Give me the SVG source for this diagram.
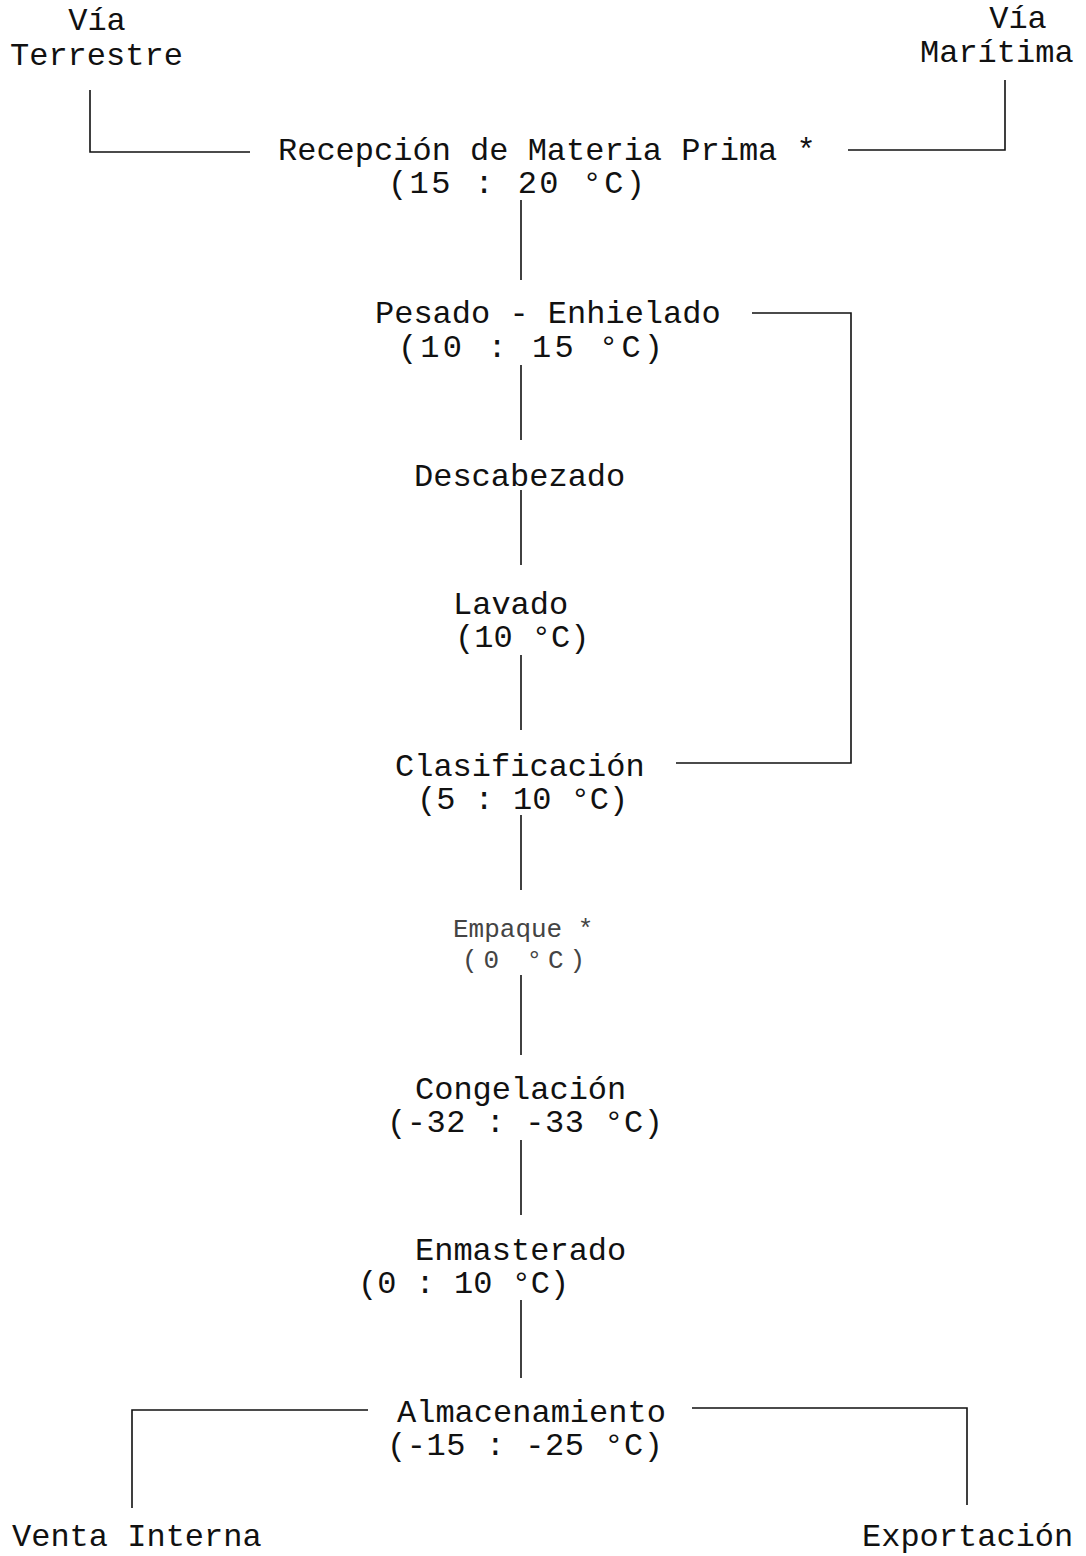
<svg xmlns="http://www.w3.org/2000/svg" width="1086" height="1556" viewBox="0 0 1086 1556">
<style>
text{font-family:"Liberation Mono","DejaVu Sans Mono",monospace;font-size:32px;fill:#111;}
.s{font-size:26px;fill:#444;}
.c{stroke:#111;stroke-width:1.6;fill:none;}
</style>
<rect width="1086" height="1556" fill="#fff"/>
<g id="connectors">
<path class="c" d="M90,90 V152 H250"/>
<path class="c" d="M848,150 H1005 V80"/>
<path class="c" d="M521,200 V280"/>
<path class="c" d="M521,365 V440"/>
<path class="c" d="M521,490 V565"/>
<path class="c" d="M521,655 V730"/>
<path class="c" d="M521,815 V890"/>
<path class="c" d="M521,975 V1055"/>
<path class="c" d="M521,1140 V1215"/>
<path class="c" d="M521,1300 V1378"/>
<path class="c" d="M752,313 H851 V763 H676"/>
<path class="c" d="M368,1410 H132 V1508"/>
<path class="c" d="M692,1408 H967 V1505"/>
</g>
<g id="via-terrestre"><text x="97" y="30" text-anchor="middle">Vía</text><text x="10" y="65">Terrestre</text></g>
<g id="via-maritima"><text x="1018" y="28" text-anchor="middle">Vía</text><text x="920" y="62">Marítima</text></g>
<g id="recepcion"><text x="278" y="160">Recepción de Materia Prima *</text><text x="388" y="193" textLength="257" lengthAdjust="spacing">(15 : 20 °C)</text></g>
<g id="pesado"><text x="375" y="323">Pesado - Enhielado</text><text x="398" y="357" textLength="265" lengthAdjust="spacing">(10 : 15 °C)</text></g>
<g id="descabezado"><text x="414" y="486">Descabezado</text></g>
<g id="lavado"><text x="453" y="614">Lavado</text><text x="455" y="647">(10 °C)</text></g>
<g id="clasificacion"><text x="395" y="776">Clasificación</text><text x="417" y="809">(5 : 10 °C)</text></g>
<g id="empaque"><text class="s" x="453" y="937">Empaque *</text><text class="s" x="462" y="968" textLength="123" lengthAdjust="spacing">(0 °C)</text></g>
<g id="congelacion"><text x="415" y="1099">Congelación</text><text x="387" y="1132" textLength="276" lengthAdjust="spacing">(-32 : -33 °C)</text></g>
<g id="enmasterado"><text x="415" y="1260">Enmasterado</text><text x="358" y="1293">(0 : 10 °C)</text></g>
<g id="almacenamiento"><text x="397" y="1422">Almacenamiento</text><text x="387" y="1455" textLength="276" lengthAdjust="spacing">(-15 : -25 °C)</text></g>
<g id="venta-interna"><text x="12" y="1546">Venta Interna</text></g>
<g id="exportacion"><text x="862" y="1546">Exportación</text></g>
</svg>
